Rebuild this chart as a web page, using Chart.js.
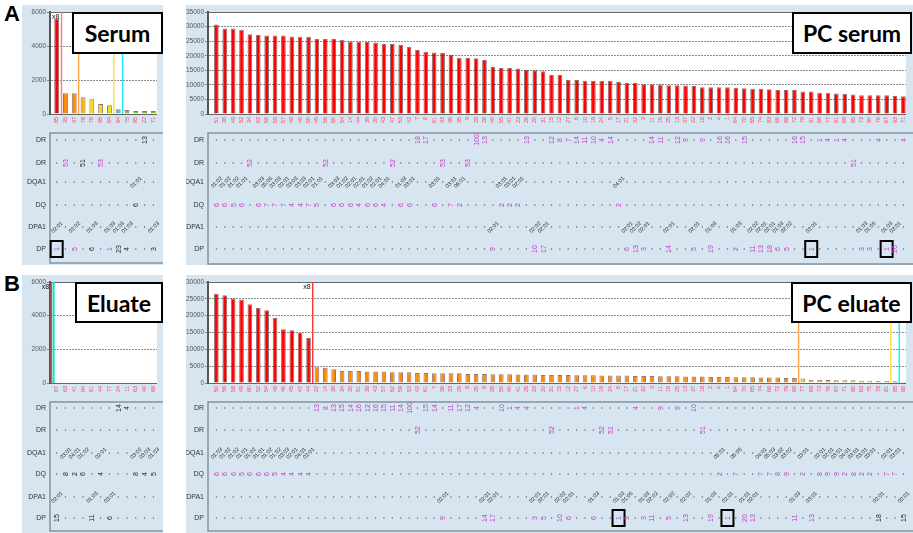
<!DOCTYPE html>
<html>
<head>
<meta charset="utf-8">
<script src="https://cdn.jsdelivr.net/npm/chart.js@4.4.0/dist/chart.umd.min.js"></script>
<style>
    body { margin: 0; width: 913px; height: 533px; background: #fff; position: relative; overflow: hidden; }
    .pane { position: absolute; background: #d7e5f0; }
    .pane canvas { display: block; }
    .tag { position: absolute; background: #fff; border: 2px solid #000; box-sizing: border-box;
           font: bold 23px Lato, "Open Sans", sans-serif; color: #000;
           display: flex; align-items: center; justify-content: center; }
    .letter { position: absolute; font: bold 22px "Liberation Sans", Arial, sans-serif; }
</style>
</head>
<body>
<div class="letter" style="left:4px;top:1px">A</div>
<div class="letter" style="left:4px;top:271px">B</div>

<div class="pane" style="left:22px;top:5px;width:141px;height:260px"><canvas id="serum" width="141" height="260"></canvas></div>
<div class="pane" style="left:186px;top:5px;width:727px;height:260px"><canvas id="pcSerum" width="727" height="260"></canvas></div>
<div class="pane" style="left:22px;top:275px;width:141px;height:258px"><canvas id="eluate" width="141" height="258"></canvas></div>
<div class="pane" style="left:186px;top:275px;width:727px;height:258px"><canvas id="pcEluate" width="727" height="258"></canvas></div>

<div class="tag" style="left:72px;top:12px;width:91px;height:42px">Serum</div>
<div class="tag" style="left:792px;top:12px;width:120px;height:42px">PC serum</div>
<div class="tag" style="left:75px;top:282px;width:88px;height:41px">Eluate</div>
<div class="tag" style="left:791px;top:282px;width:121px;height:41px">PC eluate</div>

<script>
// ---- data ----
const rowNames = ["DR", "DR", "DQA1", "DQ", "DPA1", "DP"];

// Serum (A, left)
const serumLabels = [85, 35, 37, 78, 76, 96, 64, 84, 75, 95, 22, 71];
const serumMfi = [5610, 1220, 1220, 980, 870, 590, 510, 280, 240, 180, 180, 180];
const serumDR = "10=~13";
const serumDR2 = "1=53 3=~51 5=53";
const serumDQA1 = "9=01:01";
const serumDQ = "9=~6";
const serumDPA1 = "0=02:01 2=02:02 4=01:03 6=01:03 7=01:03 8=01:03 11=01:03";
const serumDP = "0=#1 2=5 4=~6 6=1 7=~23 8=~4 11=~3";

// PC serum (A, right)
const pcSerumLabels = [51, 38, 49, 52, 34, 62, 58, 59, 57, 48, 46, 50, 45, 56, 60, 54, 14, 44, 39, 30,
    43, 47, 53, 42, 7, 8, 61, 33, 36, 35, 9, 29, 28, 40, 55, 41, 23, 26, 20, 31,
    15, 12, 27, 6, 10, 19, 24, 5, 17, 21, 32, 3, 11, 16, 25, 13, 37, 22, 18, 2,
    4, 1, 64, 70, 65, 74, 83, 66, 88, 72, 79, 91, 68, 77, 81, 69, 85, 73, 90, 76, 67, 93, 71];
const pcSerumMfi = [30700, 29300, 29300, 28900, 27400, 27100, 26900, 26900, 26900, 26600,
    26500, 26500, 25700, 25700, 25700, 25500, 24900, 24800, 24700, 24500,
    24000, 24000, 23800, 23100, 22000, 21400, 21100, 21000, 20300, 19300,
    19300, 19100, 18600, 16100, 15800, 15800, 15600, 15200, 15000, 14700,
    13400, 13400, 11700, 11700, 11400, 11400, 11400, 11400, 11000, 10600,
    10600, 10200, 10200, 10100, 9900, 9900, 9800, 9600, 9200, 9200,
    9200, 9200, 9000, 8800, 8700, 8700, 8500, 8200, 8200, 8200,
    7700, 7700, 7300, 7300, 7000, 6900, 6700, 6400, 6400, 6400, 6400, 6200, 6100];
const pcSerumDR = "24=18 25=17 31=100 32=13 37=13 40=12 41=8 42=7 43=14 44=11 45=10 46=4 47=14 " +
    "52=14 53=11 55=12 56=9 58=9 60=16 61=16 63=15 69=16 70=15 72=1 73=4 74=1 75=4 79=4 82=4";
const pcSerumDR2 = "4=52 13=52 21=52 27=53 30=53 76=51";
const pcSerumDQA1 = "0=01:02 1=01:02 2=01:02 3=01:01 5=03:03 6=05:05 7=03:03 8=02:01 9=03:03 10=03:03 " +
    "11=02:01 12=01:01 14=03:03 15=01:02 16=02:01 17=02:01 18=01:02 19=02:01 20=04:01 22=01:03 " +
    "23=03:01 26=03:01 28=03:01 29=06:01 34=03:01 35=03:01 36=02:01 48=04:01";
const pcSerumDQ = "0=6 1=6 2=5 3=6 5=6 6=7 7=7 8=7 9=4 10=4 11=7 12=5 14=6 15=6 16=6 17=4 18=6 19=6 20=4 " +
    "22=6 23=6 26=6 28=7 29=2 34=2 35=2 36=2 48=2";
const pcSerumDPA1 = "33=02:01 38=02:02 39=02:01 49=02:01 50=02:02 51=02:01 54=02:01 57=02:01 59=01:03 " +
    "62=01:03 64=02:02 65=02:01 66=02:01 67=01:03 68=02:02 71=02:01 77=01:03 78=01:05 80=01:03 81=03:01";
const pcSerumDP = "33=9 38=10 39=17 49=6 50=13 51=3 54=14 57=5 59=19 62=2 64=11 65=13 66=18 67=6 68=5 " +
    "71=#1 77=3 78=3 80=#1 81=20";

// Eluate (B, left)
const eluateLabels = [87, 63, 41, 84, 61, 44, 77, 24, 11, 63, 40, 68];
const eluateMfi = [0, 0, 0, 0, 0, 0, 0, 0, 0, 0, 0, 0];
const eluateDR = "7=14 8=4";
const eluateDR2 = "";
const eluateDQA1 = "1=03:01 2=04:01 3=01:02 5=02:01 9=03:02 10=03:03 11=01:03";
const eluateDQ = "1=8 2=2 3=6 5=4 9=8 10=4 11=5";
const eluateDPA1 = "0=02:01 4=01:03 6=03:01";
const eluateDP = "0=15 4=11 6=6";

// PC eluate (B, right)
const pcEluateLabels = [50, 56, 58, 49, 60, 52, 54, 48, 46, 45, 47, 44,
    22, 14, 39, 34, 30, 51, 38, 43, 57, 62, 59, 53, 42, 61, 7, 36, 33, 29, 8, 35, 9, 28, 55, 40, 41, 26, 23, 20,
    31, 15, 12, 27, 6, 10, 19, 24, 5, 17, 21, 32, 3, 11, 16, 25, 13, 37, 18, 2,
    4, 1, 64, 70, 65, 74, 66, 72, 79, 68, 77, 69, 73, 76, 67, 71, 80, 63, 75, 78, 81, 85, 88];
const pcEluateMfi = [26500, 26100, 25100, 24800, 23400, 22300, 21600, 19400, 16000, 15700, 14900, 13400,
    4700, 4500, 4100, 3600, 3600, 3600, 3400, 3400, 3400, 3200, 3200, 3200, 3000, 3000, 2900, 2900,
    2900, 2900, 2700, 2700, 2700, 2600, 2600, 2600, 2500, 2500, 2500, 2400,
    2400, 2400, 2400, 2300, 2300, 2300, 2200, 2200, 2200, 2200, 2100, 2100, 2100, 2000, 2000,
    2000, 1900, 1900, 1900, 1800, 1800, 1800, 1700, 1700, 1700, 1600, 1600, 1600, 1500, 1500,
    1300, 1000, 1000, 900, 800, 800, 800, 700, 700, 600, 600, 500, 300];
const pcEluateDR = "12=13 13=8 14=13 15=15 16=14 17=16 18=12 19=16 20=15 21=11 22=14 23=100 25=15 26=14 " +
    "28=11 29=17 30=12 31=4 34=10 35=1 36=4 37=4 43=1 44=4 50=4 53=9 55=9 57=10";
const pcEluateDR2 = "24=52 40=52 46=52 47=51 58=51";
const pcEluateDQA1 = "0=01:03 1=01:02 2=01:02 3=01:01 4=01:02 5=01:01 6=01:02 7=01:02 8=03:03 9=02:01 " +
    "10=04:01 11=02:01 60=05:01 62=05:05 65=04:01 66=05:03 67=03:02 68=03:02 70=03:01 72=02:01 " +
    "73=02:01 74=03:01 75=04:01 76=03:01 77=03:01 78=03:01 80=02:01 81=03:01";
const pcEluateDQ = "0=6 1=6 2=6 3=5 4=6 5=6 6=6 7=5 8=4 9=4 10=4 11=4 60=2 62=7 65=7 66=7 67=8 68=9 " +
    "70=2 72=8 73=9 74=9 75=2 76=8 77=2 78=2 80=7 81=7";
const pcEluateDPA1 = "27=02:01 32=02:01 33=02:01 38=02:01 39=02:01 41=02:02 42=02:01 45=01:03 48=01:03 " +
    "49=01:05 51=01:03 52=02:02 54=02:02 56=02:02 59=01:03 61=02:01 63=01:01 64=02:01 69=01:03 " +
    "71=03:01 79=02:01 82=02:01";
const pcEluateDP = "27=9 32=14 33=17 38=3 39=5 41=10 42=6 45=6 48=#1 49=3 51=3 52=11 54=5 56=13 59=19 " +
    "61=#1 63=20 64=13 69=11 71=13 79=~18 82=~15";

// ---- drawing ----
const MAGENTA = "#c13bc4";
const INK = "#222";
const FONT = '"Liberation Sans", Arial, sans-serif';
Chart.defaults.font.family = FONT;

function buildRow(n, spec) {
    let cells = new Array(n).fill(".");
    spec.split(" ").filter(Boolean).forEach(p => {
        let k = p.indexOf("=");
        cells[+p.slice(0, k)] = p.slice(k + 1);
    });
    return cells;
}

function drawCell(ctx, cell, x, y, numInk, altInk) {
    if (cell === ".") {
        ctx.fillStyle = "#5a5a5a";
        ctx.fillRect(x - 0.6, y - 0.6, 1.2, 1.2);
        return;
    }
    let boxed = false;
    let colour = numInk;
    if (cell[0] === "#") { boxed = true; cell = cell.slice(1); }
    if (cell[0] === "~") { colour = altInk; cell = cell.slice(1); }
    ctx.save();
    ctx.translate(x, y);
    ctx.textAlign = "center";
    ctx.textBaseline = "middle";
    if (cell.indexOf(":") >= 0) {
        ctx.rotate(-Math.PI / 4);
        ctx.fillStyle = INK;
        ctx.font = "5.5px " + FONT;
    } else {
        ctx.rotate(-Math.PI / 2);
        ctx.fillStyle = colour;
        ctx.font = "7px " + FONT;
    }
    ctx.fillText(cell, 0, 0.5);
    ctx.restore();
    if (boxed) {
        ctx.strokeStyle = "#000";
        ctx.lineWidth = 2;
        ctx.strokeRect(x - 6, y - 8, 12, 16);
    }
}

function panelPlugin(cfg) {
    return {
        id: "panel",
        beforeDraw(chart) {
            let a = chart.chartArea, ctx = chart.ctx;
            ctx.save();
            ctx.fillStyle = "#fff";
            ctx.fillRect(a.left, a.top, a.right - a.left, a.bottom - a.top);
            ctx.restore();
        },
        afterDatasetsDraw(chart) {
            let a = chart.chartArea, ctx = chart.ctx, xs = chart.scales.x;
            ctx.save();
            ctx.strokeStyle = "#666";
            ctx.lineWidth = 1;
            ctx.beginPath();
            ctx.moveTo(a.left, a.top + 0.5);
            ctx.lineTo(a.right, a.top + 0.5);
            ctx.stroke();
            cfg.markers.forEach(m => {
                let x = xs.getPixelForValue(m.at);
                ctx.strokeStyle = m.colour;
                ctx.lineWidth = m.width || 1.4;
                ctx.beginPath();
                ctx.moveTo(x, a.top);
                ctx.lineTo(x, a.bottom);
                ctx.stroke();
                if (m.text) {
                    ctx.fillStyle = "#111";
                    ctx.font = "7px " + FONT;
                    ctx.textAlign = "right";
                    ctx.textBaseline = "middle";
                    ctx.fillText(m.text, x - 2, a.top + 5);
                }
            });
            ctx.restore();
        },
        afterDraw(chart) {
            let a = chart.chartArea, ctx = chart.ctx, xs = chart.scales.x;
            ctx.save();
            ctx.strokeStyle = "#8592a0";
            ctx.lineWidth = 1.5;
            ctx.strokeRect(a.left, cfg.tableTop, chart.width - a.left + 10, cfg.tableBottom - cfg.tableTop);
            rowNames.forEach((name, r) => {
                let y = cfg.rowY[r];
                ctx.fillStyle = "#333";
                ctx.font = "7px " + FONT;
                ctx.textAlign = "right";
                ctx.textBaseline = "middle";
                ctx.fillText(name, a.left - 4, y);
                let cells = buildRow(cfg.labels.length, cfg.rows[r]);
                cells.forEach((cell, i) => {
                    let x = xs.getPixelForValue(i);
                    if (x > chart.width - 2) return;
                    drawCell(ctx, cell, x, y, cfg.numInk, cfg.altInk);
                });
            });
            ctx.restore();
        }
    };
}

function makeChart(id, cfg) {
    let el = document.getElementById(id);
    return new Chart(el, {
        type: "bar",
        data: {
            datasets: [{
                data: cfg.values.map((v, i) => ({ x: i, y: v })),
                backgroundColor: c => cfg.colour(c.dataIndex),
                borderColor: "rgba(60,0,0,0.55)",
                borderWidth: 1,
                categoryPercentage: 0.8,
                barPercentage: 0.7
            }]
        },
        options: {
            responsive: false,
            animation: false,
            events: [],
            layout: { padding: { top: 7, right: cfg.padRight, bottom: cfg.padBottom, left: 0 } },
            plugins: { legend: { display: false }, tooltip: { enabled: false } },
            scales: {
                x: {
                    type: "linear",
                    offset: false,
                    min: cfg.xMin,
                    max: cfg.xMax,
                    afterBuildTicks: s => { s.ticks = cfg.labels.map((_, i) => ({ value: i })); },
                    afterFit: s => { s.height = 14; },
                    grid: { display: false, drawTicks: false },
                    border: { color: "#666", width: 1 },
                    ticks: {
                        autoSkip: false,
                        minRotation: 90,
                        maxRotation: 90,
                        padding: 3,
                        color: "#f4486a",
                        font: { size: 5.5 },
                        callback: (v, i) => String(cfg.labels[i])
                    }
                },
                y: {
                    min: 0,
                    max: cfg.yMax,
                    afterFit: s => { s.width = cfg.axisWidth; },
                    ticks: { stepSize: cfg.step, color: "#555", font: { size: 6.5 }, padding: 1,
                             callback: v => String(v) },
                    grid: { color: "#8a8a8a", tickLength: 3 },
                    border: { color: "#555", width: 2, dash: [2, 1] }
                }
            }
        },
        plugins: [panelPlugin(cfg)]
    });
}

const rowsA = [135, 158, 177, 200, 222, 244];
const rowsB = [133, 155, 178, 199, 222, 243];

makeChart("serum", {
    labels: serumLabels, values: serumMfi,
    rows: [serumDR, serumDR2, serumDQA1, serumDQ, serumDPA1, serumDP],
    colour: i => i < 1 ? "#ff0000" : i < 3 ? "#ff8a00" : i < 4 ? "#ffb400" : i < 7 ? "#f4e000" : i < 8 ? "#22cfe0" : "#7cc020",
    markers: [
        { at: 0.55, colour: "#ff7a7a", text: "x8" },
        { at: 2.5, colour: "#ffa640" },
        { at: 6.5, colour: "#ffe23a" },
        { at: 7.5, colour: "#22e6f2" }
    ],
    numInk: MAGENTA, altInk: INK,
    xMin: -0.76, xMax: 11.41, yMax: 6000, step: 2000, axisWidth: 28,
    padRight: 1, padBottom: 137, tableTop: 128, tableBottom: 258, rowY: rowsA
});

makeChart("pcSerum", {
    labels: pcSerumLabels, values: pcSerumMfi,
    rows: [pcSerumDR, pcSerumDR2, pcSerumDQA1, pcSerumDQ, pcSerumDPA1, pcSerumDP],
    colour: i => "#ff0000",
    markers: [],
    numInk: MAGENTA, altInk: INK,
    xMin: -1.0, xMax: 82.3, yMax: 35000, step: 5000, axisWidth: 22,
    padRight: 3, padBottom: 137, tableTop: 128, tableBottom: 259, rowY: rowsA
});

makeChart("eluate", {
    labels: eluateLabels, values: eluateMfi,
    rows: [eluateDR, eluateDR2, eluateDQA1, eluateDQ, eluateDPA1, eluateDP],
    colour: i => "#ff8a00",
    markers: [
        { at: -0.62, colour: "#ff3030", text: "x8" },
        { at: -0.36, colour: "#19e0c8", width: 2.2 }
    ],
    numInk: INK, altInk: MAGENTA,
    xMin: -0.76, xMax: 11.41, yMax: 6000, step: 2000, axisWidth: 28,
    padRight: 1, padBottom: 136, tableTop: 127, tableBottom: 256, rowY: rowsB
});

makeChart("pcEluate", {
    labels: pcEluateLabels, values: pcEluateMfi,
    rows: [pcEluateDR, pcEluateDR2, pcEluateDQA1, pcEluateDQ, pcEluateDPA1, pcEluateDP],
    colour: i => i < 12 ? "#ff0000" : i < 70 ? "#ff8a00" : i < 81 ? "#e2dc00" : i < 82 ? "#1f8f8f" : "#888",
    markers: [
        { at: 11.5, colour: "#ff3030", text: "x8" },
        { at: 69.5, colour: "#ffa640" },
        { at: 80.5, colour: "#ffe23a" },
        { at: 81.5, colour: "#22e6f2" }
    ],
    numInk: MAGENTA, altInk: INK,
    xMin: -1.0, xMax: 82.3, yMax: 30000, step: 5000, axisWidth: 22,
    padRight: 3, padBottom: 136, tableTop: 127, tableBottom: 256, rowY: rowsB
});
</script>
</body>
</html>
